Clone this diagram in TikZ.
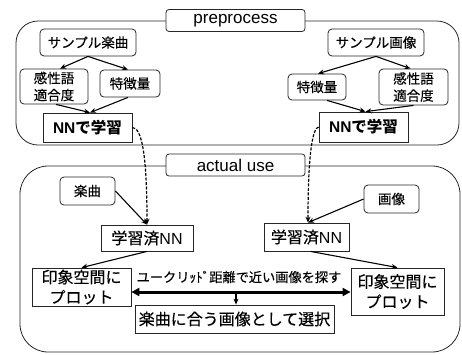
\documentclass[tikz,border=0pt]{standalone}
\usepackage{fontspec}
\setmainfont{Liberation Sans}
\newfontfamily\jp[FakeBold=0.3]{Noto Sans CJK JP}
\newfontfamily\jpb{Noto Sans CJK JP}
\usetikzlibrary{arrows.meta,calc}

\tikzset{
  group/.style={draw=black!85, line width=0.8pt},
  tag/.style={draw=black!85, fill=white, rounded corners=3pt, line width=0.8pt,
    minimum width=139pt, minimum height=22pt, inner sep=0pt, font=\fontsize{17}{17}\selectfont},
  rbox/.style={draw=black!85, rounded corners=4pt, line width=0.8pt, inner sep=0pt, align=center},
  sbox/.style={draw=black!85, line width=0.8pt, inner sep=0pt, align=center},
  small/.style={font=\jp\fontsize{13.5}{17}\selectfont},
  big/.style={font=\jp\fontsize{16}{20}\selectfont},
  arr/.style={-{Stealth[length=6pt,width=5pt]}, line width=1.1pt},
  dasharr/.style={-{Stealth[length=6pt,width=5pt]}, line width=1.2pt, dash pattern=on 3pt off 1.5pt},
  wide/.style={{Triangle[length=8pt,width=8pt]}-{Triangle[length=8pt,width=8pt]}, line width=3pt},
}

\begin{document}
\begin{tikzpicture}[x=1pt,y=-1pt]
\useasboundingbox (0,0) rectangle (462,354);

% --- grouping frames ---
\draw[group, rounded corners=22pt] (16,21) rectangle (459,145);
\draw[group, rounded corners=28pt] (20,166) rectangle (460,352);
\node[tag] (pre) at (235.5,20.5) {preprocess};
\node[tag] (use) at (235.5,165) {actual use};

% --- preprocess: music side ---
\node[rbox, small, minimum width=96pt, minimum height=27pt] (s1) at (88,42.5) {サンプル楽曲};
\node[rbox, small, minimum width=68pt, minimum height=35pt] (k1) at (54,86.5) {感性語\\適合度};
\node[rbox, small, minimum width=60pt, minimum height=27pt] (f1) at (130,83.5) {特徴量};
\node[sbox, minimum width=89pt, minimum height=29pt] (n1) at (87.5,127.5)
  {\fontsize{15.5}{18}\selectfont\bfseries NN{\jpb で学習}};

% --- preprocess: image side ---
\node[rbox, small, minimum width=96pt, minimum height=27pt] (s2) at (376,42.5) {サンプル画像};
\node[rbox, small, minimum width=58pt, minimum height=26pt] (f2) at (317,87) {特徴量};
\node[rbox, small, minimum width=69pt, minimum height=36pt] (k2) at (413.5,87) {感性語\\適合度};
\node[sbox, minimum width=89pt, minimum height=30pt] (n2) at (363.5,127)
  {\fontsize{15.5}{18}\selectfont\bfseries NN{\jpb で学習}};

\draw[arr] (s1.south) -- ([xshift=6pt]k1.north);
\draw[arr] (s1.south) -- ([xshift=-2pt]f1.north);
\draw[arr] ([xshift=2pt]k1.south) -- ([xshift=2.5pt]n1.north);
\draw[arr] ([xshift=-2pt]f1.south) -- ([xshift=2.5pt]n1.north);

\draw[arr] (s2.south) -- ([xshift=1pt]f2.north);
\draw[arr] (s2.south) -- ([xshift=-3pt]k2.north);
\draw[arr] ([xshift=10pt]f2.south) -- ([xshift=2pt]n2.north);
\draw[arr] (k2.south) -- ([xshift=2pt]n2.north);

% --- actual use ---
\node[rbox, small, minimum width=55pt, minimum height=28pt] (m) at (87.5,191) {楽曲};
\node[rbox, small, minimum width=55pt, minimum height=28pt] (g) at (391.5,199) {画像};
\node[sbox, minimum width=92pt, minimum height=26pt] (t1) at (147,238)
  {\fontsize{16}{20}\selectfont{\jp 学習済}NN};
\node[sbox, minimum width=85pt, minimum height=28pt] (t2) at (306.5,237)
  {\fontsize{16}{20}\selectfont{\jp 学習済}NN};
\node[sbox, big, minimum width=99pt, minimum height=38pt] (p1) at (81.5,287) {印象空間に\\プロット};
\node[sbox, big, minimum width=93pt, minimum height=47pt] (p2) at (397.5,291.5) {印象空間に\\プロット};
\node[sbox, big, minimum width=199pt, minimum height=28pt] (sel) at (234.5,319) {楽曲に合う画像として選択};

% trained networks carried over from preprocessing
\draw[dasharr] (n1.east) .. controls (141,128) and (147,150) .. (t1.north);
\draw[dasharr] (n2.west) .. controls (313,128) and (308,150) .. ([xshift=1.5pt]t2.north);

\draw[arr] (m.east) -- (t1.north);
\draw[arr] (g.west) -- ([xshift=1.5pt]t2.north);
\draw[arr] (t1.south) -- (p1.north);
\draw[arr] ([xshift=4pt]t2.south) -- (p2.north);

% nearest-neighbour search in the impression space
\coordinate (mid) at (236,292);
\draw[wide] (mid -| p1.east) -- (mid -| p2.west);
\draw[arr] (mid) -- (mid |- sel.north);
\node[small, font=\jp\fontsize{13.2}{16}\selectfont, inner sep=0pt] (lbl) at (239,277) {ユークリｯﾄﾞ距離で近い画像を探す};
\end{tikzpicture}
\end{document}
